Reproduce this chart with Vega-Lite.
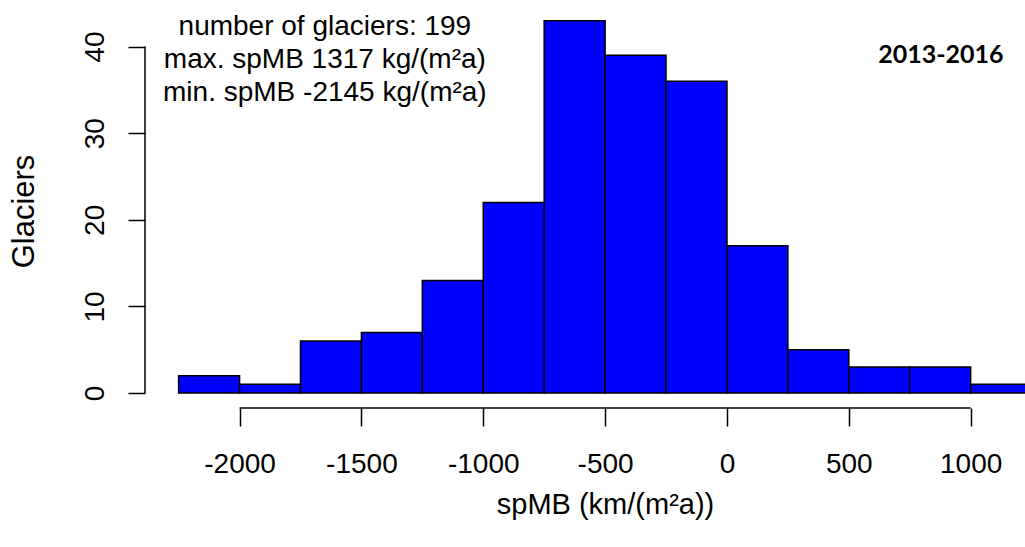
{
  "$schema": "https://vega.github.io/schema/vega-lite/v6.json",
  "width": 880,
  "height": 402,
  "autosize": {"type": "none"},
  "padding": {"left": 145, "top": 6, "right": 0, "bottom": 139},
  "background": "white",
  "config": {
    "view": {"stroke": null},
    "font": "Liberation Sans",
    "text": {"font": "Liberation Sans", "color": "black"}
  },
  "datasets": {
    "bins": [
      {"bin_start": -2250, "bin_end": -2000, "count": 2},
      {"bin_start": -2000, "bin_end": -1750, "count": 1},
      {"bin_start": -1750, "bin_end": -1500, "count": 6},
      {"bin_start": -1500, "bin_end": -1250, "count": 7},
      {"bin_start": -1250, "bin_end": -1000, "count": 13},
      {"bin_start": -1000, "bin_end": -750, "count": 22},
      {"bin_start": -750, "bin_end": -500, "count": 43},
      {"bin_start": -500, "bin_end": -250, "count": 39},
      {"bin_start": -250, "bin_end": 0, "count": 36},
      {"bin_start": 0, "bin_end": 250, "count": 17},
      {"bin_start": 250, "bin_end": 500, "count": 5},
      {"bin_start": 500, "bin_end": 750, "count": 3},
      {"bin_start": 750, "bin_end": 1000, "count": 3},
      {"bin_start": 1000, "bin_end": 1250, "count": 1},
      {"bin_start": 1250, "bin_end": 1500, "count": 1}
    ],
    "single": [{}]
  },
  "layer": [
    {
      "data": {"name": "bins"},
      "mark": {"type": "bar", "fill": "#0000FF", "stroke": "black", "strokeWidth": 1.5, "clip": true},
      "encoding": {
        "x": {
          "field": "bin_start",
          "type": "quantitative",
          "scale": {"domain": [-2388, 1223], "nice": false, "zero": false},
          "axis": {
            "title": "spMB (km/(m²a))",
            "values": [-2000, -1500, -1000, -500, 0, 500, 1000],
            "labelExpr": "'' + datum.value",
            "domain": false,
            "grid": false,
            "tickSize": 18,
            "tickWidth": 1.5,
            "tickColor": "black",
            "labelFontSize": 28,
            "labelColor": "black",
            "labelBaseline": "alphabetic",
            "labelPadding": 46,
            "labelFlush": false,
            "labelOverlap": false,
            "titleFontSize": 29,
            "titleFontWeight": "normal",
            "titleColor": "black",
            "titleX": 460,
            "titleY": 105,
            "titleAlign": "center",
            "titleBaseline": "alphabetic"
          }
        },
        "x2": {"field": "bin_end"},
        "y": {
          "field": "count",
          "type": "quantitative",
          "scale": {"domain": [-1.73, 44.69], "nice": false, "zero": false},
          "axis": {
            "title": "Glaciers",
            "values": [0, 10, 20, 30, 40],
            "domain": false,
            "grid": false,
            "tickSize": 17,
            "tickWidth": 1.5,
            "tickColor": "black",
            "labelAngle": -90,
            "labelAlign": "center",
            "labelBaseline": "alphabetic",
            "labelPadding": 25,
            "labelFontSize": 28,
            "labelColor": "black",
            "labelOverlap": false,
            "titleFontSize": 31,
            "titleFontWeight": "normal",
            "titleColor": "black",
            "titleAngle": -90,
            "titleX": -112,
            "titleY": 205,
            "titleAlign": "center",
            "titleBaseline": "alphabetic"
          }
        },
        "y2": {"datum": 0}
      }
    },
    {
      "data": {"name": "single"},
      "mark": {"type": "rule", "color": "black", "strokeWidth": 1.5},
      "encoding": {
        "x": {"datum": -2388, "type": "quantitative"},
        "y": {"datum": 0, "type": "quantitative"},
        "y2": {"datum": 40}
      }
    },
    {
      "data": {"name": "single"},
      "mark": {"type": "rule", "color": "black", "strokeWidth": 1.5},
      "encoding": {
        "x": {"datum": -2000, "type": "quantitative"},
        "x2": {"datum": 1000},
        "y": {"datum": -1.73, "type": "quantitative"}
      }
    },
    {
      "data": {"name": "single"},
      "mark": {
        "type": "text",
        "fontSize": 28,
        "align": "center",
        "baseline": "alphabetic",
        "lineHeight": 33,
        "color": "black"
      },
      "encoding": {
        "x": {"datum": -1650, "type": "quantitative"},
        "y": {"datum": 41.3, "type": "quantitative"},
        "text": {"value": ["number of glaciers: 199", "max. spMB 1317 kg/(m²a)", "min. spMB -2145 kg/(m²a)"]}
      }
    },
    {
      "data": {"name": "single"},
      "mark": {
        "type": "text",
        "font": "Lato",
        "fontWeight": "bold",
        "fontSize": 25,
        "align": "center",
        "baseline": "alphabetic",
        "color": "black"
      },
      "encoding": {
        "x": {"datum": 878, "type": "quantitative"},
        "y": {"datum": 38.1, "type": "quantitative"},
        "text": {"value": "2013-2016"}
      }
    }
  ]
}
